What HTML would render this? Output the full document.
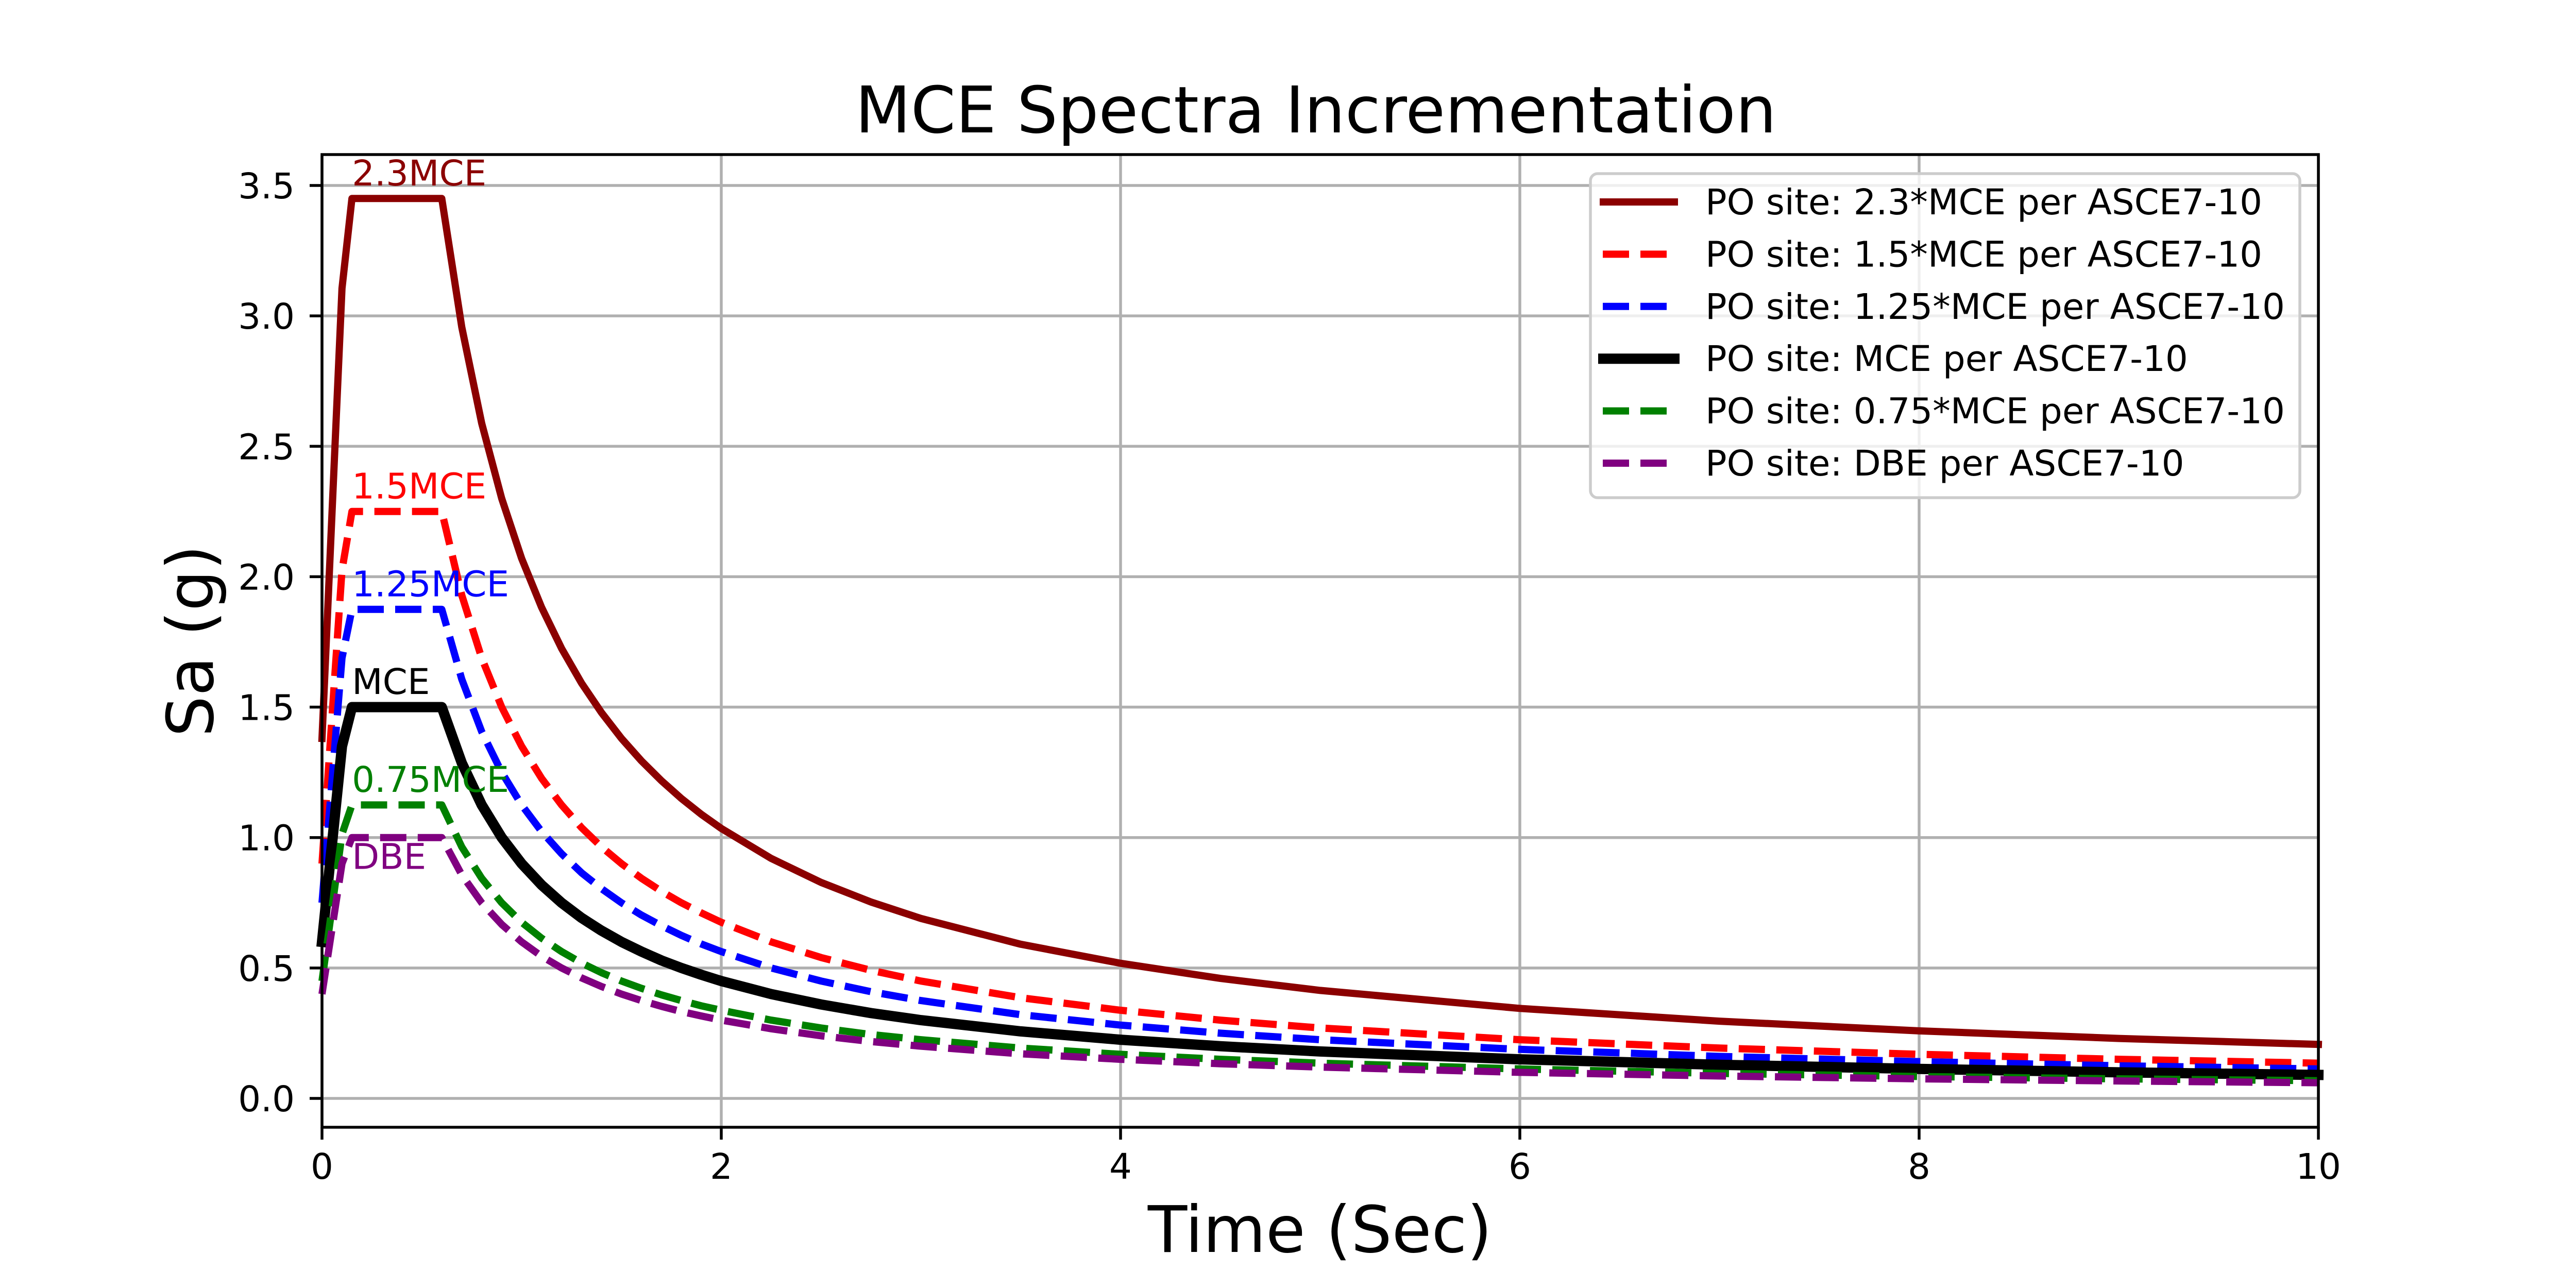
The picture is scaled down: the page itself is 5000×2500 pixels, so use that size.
<!DOCTYPE html>
<html><head><meta charset="utf-8">
<style>
html,body{margin:0;padding:0;background:#fff;}
svg{display:block;font-family:"DejaVu Sans","Liberation Sans",sans-serif;}
</style></head>
<body>
<svg id="chart" width="5000" height="2500" viewBox="0 0 5000 2500" xmlns="http://www.w3.org/2000/svg">
<rect x="0" y="0" width="5000" height="2500" fill="#fff"/>
<g id="grid"></g>
<g id="series"></g>
<g id="annots"></g>
<g id="axes"></g>
<text x="2554" y="257" font-size="125" text-anchor="middle">MCE Spectra Incrementation</text>
<text x="2562" y="2430" font-size="125" text-anchor="middle">Time (Sec)</text>
<text transform="translate(413,1244) rotate(-90)" font-size="125" text-anchor="middle">Sa (g)</text>
<g id="legend"></g>
</svg>
<script>
const periods = [0,0.05,0.1,0.15,0.6,0.7,0.8,0.9,1.0,1.1,1.2,1.3,1.4,1.5,1.6,1.7,1.8,1.9,2.0,2.25,2.5,2.75,3,3.5,4,4.5,5,6,7,8,9,10];
const sa23 = [1.38,2.243,3.105,3.45,3.45,2.957,2.588,2.3,2.07,1.882,1.725,1.592,1.479,1.38,1.294,1.218,1.15,1.089,1.035,0.92,0.828,0.753,0.69,0.591,0.518,0.46,0.414,0.345,0.296,0.259,0.23,0.207];
const sa15 = [0.9,1.463,2.025,2.25,2.25,1.929,1.688,1.5,1.35,1.227,1.125,1.038,0.964,0.9,0.844,0.794,0.75,0.711,0.675,0.6,0.54,0.491,0.45,0.386,0.338,0.3,0.27,0.225,0.193,0.169,0.15,0.135];
const sa125 = [0.75,1.219,1.688,1.875,1.875,1.607,1.406,1.25,1.125,1.023,0.938,0.865,0.804,0.75,0.703,0.662,0.625,0.592,0.563,0.5,0.45,0.409,0.375,0.321,0.281,0.25,0.225,0.188,0.161,0.141,0.125,0.113];
const saMCE = [0.6,0.975,1.35,1.5,1.5,1.286,1.125,1.0,0.9,0.818,0.75,0.692,0.643,0.6,0.563,0.529,0.5,0.474,0.45,0.4,0.36,0.327,0.3,0.257,0.225,0.2,0.18,0.15,0.129,0.113,0.1,0.09];
const sa075 = [0.45,0.731,1.013,1.125,1.125,0.964,0.844,0.75,0.675,0.614,0.563,0.519,0.482,0.45,0.422,0.397,0.375,0.355,0.338,0.3,0.27,0.245,0.225,0.193,0.169,0.15,0.135,0.113,0.096,0.084,0.075,0.068];
const saDBE = [0.4,0.65,0.9,1.0,1.0,0.857,0.75,0.667,0.6,0.545,0.5,0.462,0.429,0.4,0.375,0.353,0.333,0.316,0.3,0.267,0.24,0.218,0.2,0.171,0.15,0.133,0.12,0.1,0.086,0.075,0.067,0.06];
const seriesLabels = ["PO site: 2.3*MCE per ASCE7-10","PO site: 1.5*MCE per ASCE7-10","PO site: 1.25*MCE per ASCE7-10","PO site: MCE per ASCE7-10","PO site: 0.75*MCE per ASCE7-10","PO site: DBE per ASCE7-10"];
const annotLabels = ["2.3MCE","1.5MCE","1.25MCE","MCE","0.75MCE","DBE"];
const annotOffsets = [0.05,0.05,0.05,0.05,0.05,-0.12];
const xTicks = [0,2,4,6,8,10];
const yTicks = [0.0,0.5,1.0,1.5,2.0,2.5,3.0,3.5];

const NS="http://www.w3.org/2000/svg";
const L=625,R=4500,T=300,B=2188;
const xMin=0,xMax=10,y0px=2132,yPerUnit=506.3;
function xs(v){return L+(v-xMin)/(xMax-xMin)*(R-L);}
function ys(v){return y0px-v*yPerUnit;}
function mk(tag,attrs,parent){const e=document.createElementNS(NS,tag);for(const k in attrs)e.setAttribute(k,attrs[k]);parent.appendChild(e);return e;}

const data=[sa23,sa15,sa125,saMCE,sa075,saDBE];
const styles=[
 {c:"#8b0000",w:14,d:null,name:"series-2-3mce"},
 {c:"#ff0000",w:14,d:"51,22",name:"series-1-5mce"},
 {c:"#0000ff",w:14,d:"51,22",name:"series-1-25mce"},
 {c:"#000000",w:20,d:null,name:"series-mce"},
 {c:"#008000",w:14,d:"51,22",name:"series-0-75mce"},
 {c:"#800080",w:14,d:"51,22",name:"series-dbe"}];

const grid=document.getElementById('grid');
xTicks.forEach(t=>{const g=mk('line',{x1:xs(t),x2:xs(t),y1:T,y2:B,stroke:"#b0b0b0","stroke-width":5.5},grid);

});
yTicks.forEach(t=>{const g=mk('line',{x1:L,x2:R,y1:ys(t),y2:ys(t),stroke:"#b0b0b0","stroke-width":5.5},grid);

});

const sg=document.getElementById('series');
const ag=document.getElementById('annots');
data.forEach((arr,i)=>{
 const s=styles[i];
 const d=arr.map((v,j)=>(j?'L':'M')+xs(periods[j]).toFixed(1)+' '+ys(v).toFixed(1)).join(' ');
 const attrs={d:d,fill:"none",stroke:s.c,"stroke-width":s.w,"stroke-linejoin":"round","stroke-linecap":s.d?"butt":"square"};
 if(s.d)attrs["stroke-dasharray"]=s.d;
 const p=mk('path',attrs,sg);
 
 
 const peak=Math.max(...arr);
 const t=mk('text',{x:xs(0.15),y:ys(peak+annotOffsets[i]),"font-size":69,fill:s.c},ag);
 t.textContent=annotLabels[i];
 
 
});

const ax=document.getElementById('axes');
const fr=mk('rect',{x:L,y:T,width:R-L,height:B-T,fill:"none",stroke:"#000","stroke-width":5.5},ax);


xTicks.forEach(t=>{
 const tk=mk('line',{x1:xs(t),x2:xs(t),y1:B,y2:B+24,stroke:"#000","stroke-width":5.5},ax);
 
 
 const lb=mk('text',{x:xs(t),y:2288,"font-size":69,"text-anchor":"middle"},ax);
 lb.textContent=String(t);
 
 
});
yTicks.forEach(t=>{
 const tk=mk('line',{x1:L-24,x2:L,y1:ys(t),y2:ys(t),stroke:"#000","stroke-width":5.5},ax);
 
 
 const lb=mk('text',{x:572,y:ys(t)+25,"font-size":69,"text-anchor":"end"},ax);
 lb.textContent=t.toFixed(1);
 
 
});

const lg=document.getElementById('legend');
const box=mk('rect',{x:3087,y:337,width:1377,height:629,rx:14,fill:"#fff","fill-opacity":0.8,stroke:"#cccccc","stroke-width":5.5},lg);


seriesLabels.forEach((lab,i)=>{
 const s=styles[i];
 const cy=392+i*101.4;
 const attrs={y1:cy,y2:cy,stroke:s.c,"stroke-width":s.w,"stroke-linecap":s.d?"butt":"square"};
 if(s.d){attrs["stroke-dasharray"]=s.d;attrs.x1=3111;attrs.x2=3236;}
 else{attrs.x1=3112;attrs.x2=3250;}
 const h=mk('line',attrs,lg);
 
 
 const t=mk('text',{x:3310,y:cy+24,"font-size":69},lg);
 t.textContent=lab;
 
 
});
</script>
</body></html>
